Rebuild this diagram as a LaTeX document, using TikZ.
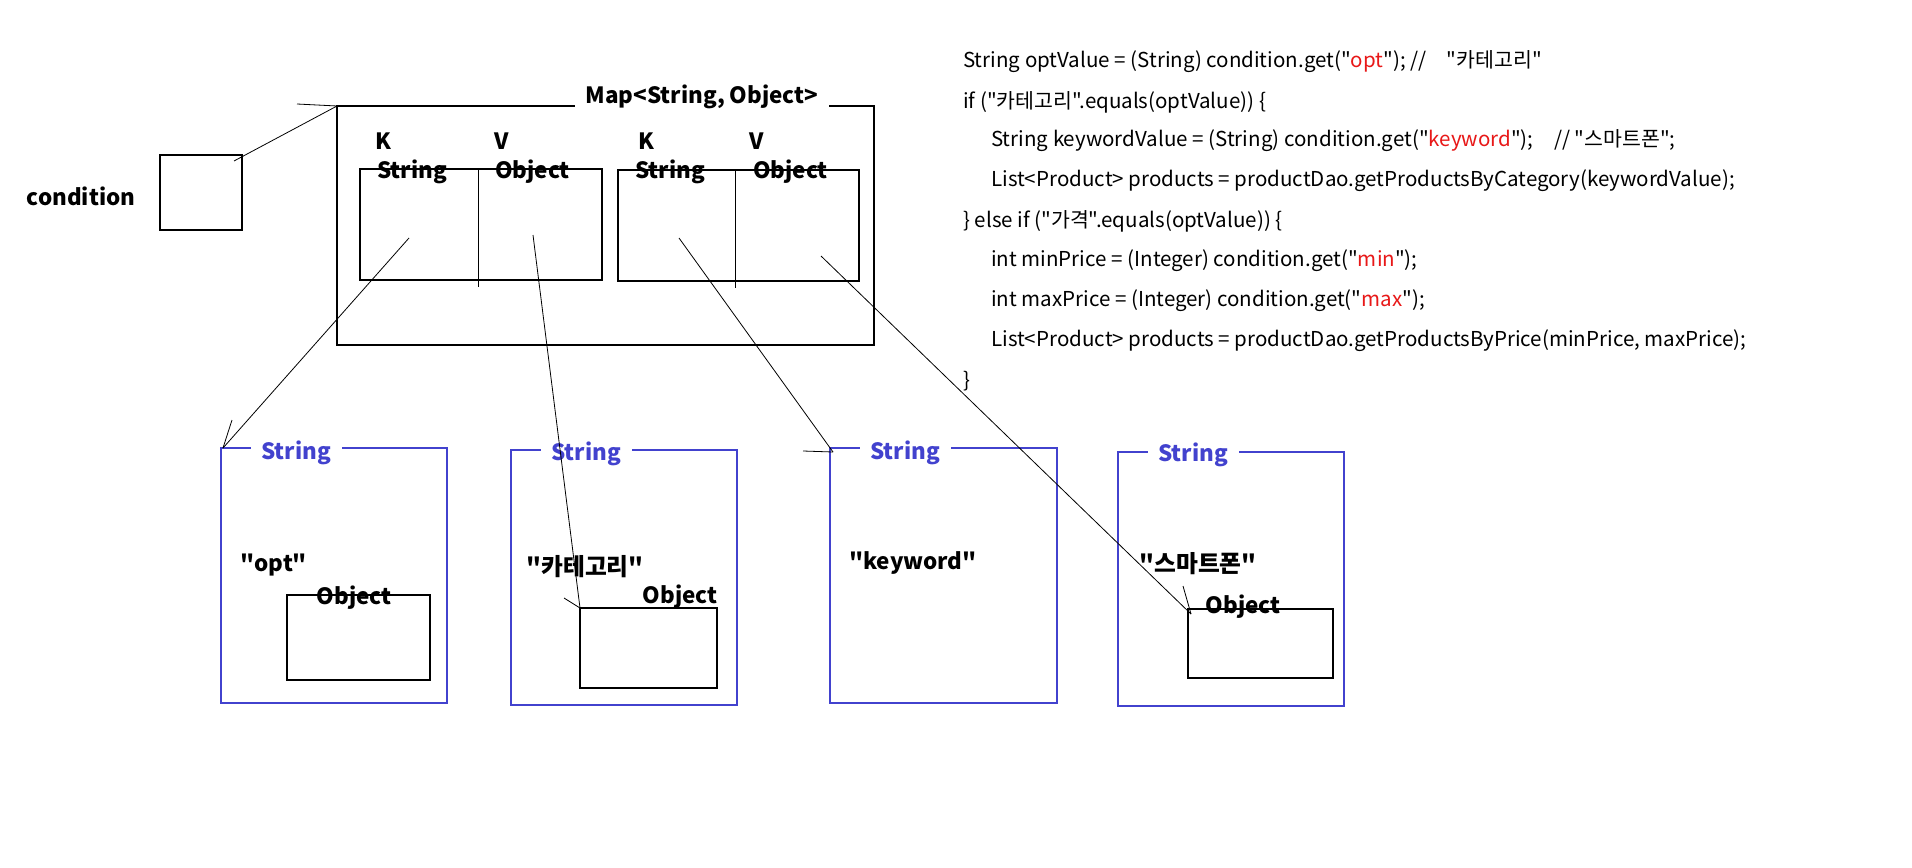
\documentclass[tikz,border=0pt]{standalone}
\usepackage{fontspec}
\setmainfont{Noto Sans CJK KR}[Ligatures=TeXOff]
\usetikzlibrary{fit}
\definecolor{blueC}{RGB}{66,66,206}
\definecolor{redC}{RGB}{232,24,24}
\begin{document}
\begin{tikzpicture}[x=0.75pt,y=-0.75pt]
\tikzset{
  bx/.style={draw=black, line width=0.8pt, inner sep=0pt},
  bl/.style={draw=blueC, line width=0.8pt, inner sep=0pt},
  lbl/.style={font=\bfseries\fontsize{16.8}{19}\selectfont, inner sep=0pt},
  lblk/.style={font=\bfseries\fontsize{17.8}{19}\selectfont, inner sep=0pt},
  lblw/.style={lbl, anchor=west},
  ttl/.style={lbl, fill=white, inner xsep=8pt, inner ysep=2pt},
  btl/.style={ttl, text=blueC},
  code/.style={anchor=west, inner sep=0pt, font=\fontsize{15.4}{17}\selectfont},
  ln/.style={line width=0.6pt},
}
\useasboundingbox (0,0) rectangle (1912,867);
\fill[white] (0,0) rectangle (1912,867);

% condition
\node[lbl] (cond) at (81,196) {condition};
\node[bx, fit={(160,155)(242,230)}] (cbox) {};
\coordinate (c1) at (234,161);
\coordinate (m0) at (337,106);
\coordinate (m00) at (297,104);
\draw[ln] (c1) -- (m0);
\draw[ln] (m00) -- (m0);

% map
\node[bx, fit={(337,106)(874,345)}] (map) {};
\node[ttl] (maptitle) at (702,97) {Map<String, Object>};

% pairs
\node[bx, fit={(360,169)(602,280)}] (p1) {};
\node[bx, fit={(618,170)(859,281)}] (p2) {};
\coordinate (d1a) at (478,169); \coordinate (d1b) at (478,287);
\coordinate (d2a) at (735,170); \coordinate (d2b) at (735,288);
\draw[line width=0.6pt] (d1a) -- (d1b);
\draw[line width=0.6pt] (d2a) -- (d2b);
\node[lbl] (k1) at (383,141) {K};
\node[lbl] (v1) at (502,141) {V};
\node[lbl] (k2) at (646,141) {K};
\node[lbl] (v2) at (757,141) {V};
\node[lblw] (t1) at (377,172) {String};
\node[lblw] (t2) at (495,172) {Object};
\node[lblw] (t3) at (635,172) {String};
\node[lblw] (t4) at (753,172) {Object};

% String boxes
\node[bl, fit={(221,448)(447,703)}] (s1) {};
\node[bl, fit={(511,450)(737,705)}] (s2) {};
\node[bl, fit={(830,448)(1057,703)}] (s3) {};
\node[bl, fit={(1118,452)(1344,706)}] (s4) {};
\node[btl] (s1t) at (296,453) {String};
\node[btl] (s2t) at (586,454) {String};
\node[btl] (s3t) at (905,453) {String};
\node[btl] (s4t) at (1193,455) {String};

\node[lbl] (v_opt) at (274,565) {"opt"};
\node[lblk] (v_cat) at (585,567) {"카테고리"};
\node[lbl] (v_kw) at (913,563) {"keyword"};
\node[lblk] (v_sp) at (1198,564) {"스마트폰"};

\node[bx, fit={(287,595)(430,680)}] (o1) {};
\node[bx, fit={(580,608)(717,688)}] (o2) {};
\node[bx, fit={(1188,609)(1333,678)}] (o4) {};
\node[lbl] (o1t) at (354,598) {Object};
\node[lbl] (o2t) at (680,597) {Object};
\node[lbl] (o4t) at (1243,607) {Object};

% connectors
\coordinate (a1) at (409,238); \coordinate (e1) at (223,448); \coordinate (h1) at (232,420);
\coordinate (a2) at (533,235); \coordinate (e2) at (580,608); \coordinate (h2) at (564,598);
\coordinate (a3) at (679,238); \coordinate (e3) at (833,452); \coordinate (h3) at (803,451);
\coordinate (a4) at (821,256); \coordinate (e4) at (1191,614); \coordinate (h4) at (1183,586);
\draw[ln] (a1) -- (e1); \draw[ln] (h1) -- (e1);
\draw[ln] (a2) -- (e2); \draw[ln] (h2) -- (e2);
\draw[ln] (a3) -- (e3); \draw[ln] (h3) -- (e3);
\draw[ln] (a4) -- (e4); \draw[ln] (h4) -- (e4);

% code
\node[code] (l1) at (963,62) {String optValue = (String) condition.get("\textcolor{redC}{opt}"); //\quad "카테고리"};
\node[code] (l2) at (963,102) {if ("카테고리".equals(optValue)) \{};
\node[code] (l3) at (991,141) {String keywordValue = (String) condition.get("\textcolor{redC}{keyword}");\quad // "스마트폰";};
\node[code] (l4) at (991,181) {List<Product> products = productDao.getProductsByCategory(keywordValue);};
\node[code] (l5) at (963,221) {\} else if ("가격".equals(optValue)) \{};
\node[code] (l6) at (991,261) {int minPrice = (Integer) condition.get("\textcolor{redC}{min}");};
\node[code] (l7) at (991,301) {int maxPrice = (Integer) condition.get("\textcolor{redC}{max}");};
\node[code] (l8) at (991,341) {List<Product> products = productDao.getProductsByPrice(minPrice, maxPrice);};
\node[code] (l9) at (963,381) {\}};
\end{tikzpicture}
\end{document}
